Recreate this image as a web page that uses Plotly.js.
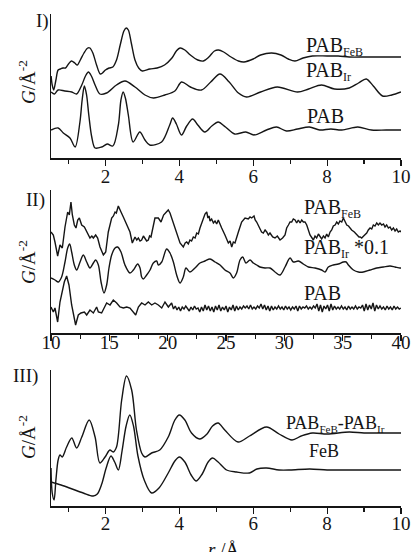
<!DOCTYPE html>
<html>
<head>
<meta charset="utf-8">
<script src="https://cdn.plot.ly/plotly-3.0.1.min.js"></script>
<style>html,body{margin:0;padding:0;background:#fff;}#chart{width:411px;height:552px;}</style>
</head>
<body>
<div id="chart"></div>
<script>
// ---- Panel I : r (Å) vs G (arbitrary offset units) ----
const panelI_FeB = [[0.53,82],[0.56,73],[0.60,68],[0.66,78],[0.72,88],[0.78,89],[0.85,90],[0.92,90],[1.00,94],[1.08,97],[1.17,95],[1.24,93],[1.32,98],[1.42,105],[1.52,110],[1.58,110],[1.66,105],[1.76,93],[1.86,84],[1.92,85],[2.00,88],[2.10,90],[2.20,91],[2.30,98],[2.40,113],[2.50,127],[2.56,130],[2.62,128],[2.70,115],[2.80,98],[2.90,90],[3.00,87],[3.20,89],[3.40,90],[3.60,93],[3.80,100],[3.92,107],[4.02,110],[4.15,108],[4.30,103],[4.50,98],[4.65,97],[4.80,101],[4.95,107],[5.06,108],[5.20,106],[5.40,101],[5.60,97],[5.75,96],[6.00,99],[6.20,103],[6.50,105],[6.75,103],[6.95,99],[7.13,97],[7.35,100],[7.60,102],[8.00,102],[8.30,102],[8.60,101],[9.00,101],[9.50,101],[10.0,101]];
const panelI_Ir = [[0.53,66],[0.62,64],[0.72,68],[0.90,67],[1.09,66],[1.22,64],[1.36,73],[1.46,82],[1.54,86],[1.62,82],[1.72,73],[1.85,64],[2.03,65],[2.30,73],[2.53,77],[2.80,71],[3.07,63],[3.30,60],[3.61,63],[3.88,67],[4.06,76],[4.30,71],[4.60,68],[4.85,76],[5.10,84],[5.35,76],[5.60,65],[5.82,61],[6.20,66],[6.65,71],[7.20,66],[7.50,69],[7.85,73],[8.20,69],[8.60,70],[8.85,75],[9.06,79],[9.25,72],[9.50,62],[9.75,63],[10.0,66]];
const panelI_PAB = [[0.53,28],[0.72,30],[0.86,25],[1.04,20],[1.18,11],[1.31,36],[1.37,58],[1.43,72],[1.49,63],[1.55,43],[1.63,21],[1.72,10],[1.90,11],[2.05,14],[2.20,12],[2.35,33],[2.42,58],[2.48,66],[2.54,60],[2.62,43],[2.75,16],[2.93,26],[3.07,18],[3.20,13],[3.52,16],[3.74,33],[3.82,40],[3.92,34],[4.06,23],[4.20,32],[4.36,39],[4.50,33],[4.69,26],[4.88,32],[5.05,36],[5.25,31],[5.50,24],[5.80,26],[6.02,23],[6.36,28],[6.63,31],[6.90,27],[7.20,29],[7.52,31],[7.80,28],[8.10,29],[8.40,28],[8.83,31],[9.20,28],[9.60,28],[10.0,28]];

// ---- Panel II : r 10–40 Å ----
const panelII_FeB = [[10.0,101],[10.2,98],[10.34,91],[10.57,77],[10.77,88],[10.97,85],[11.2,106],[11.43,121],[11.57,118],[11.71,131],[11.83,118],[12.0,108],[12.14,105],[12.29,113],[12.43,115],[12.63,108],[12.86,106],[13.06,101],[13.2,97],[13.34,95],[13.5,97],[13.63,95],[13.83,98],[14.0,95],[14.2,86],[14.49,78],[14.69,81],[14.91,101],[15.2,115],[15.35,117],[15.49,121],[15.6,120],[15.77,127],[15.9,123],[16.0,121],[16.2,116],[16.49,108],[16.77,101],[16.97,90],[17.2,96],[17.35,93],[17.49,95],[17.63,92],[17.77,93],[17.92,97],[18.06,95],[18.2,92],[18.34,93],[18.45,97],[18.57,96],[18.91,115],[19.2,115],[19.43,111],[19.65,118],[19.91,121],[20.05,123],[20.2,120],[20.49,110],[20.77,98],[21.06,90],[21.34,86],[21.5,90],[21.63,91],[21.77,89],[21.91,93],[22.05,92],[22.2,96],[22.35,95],[22.49,100],[22.63,99],[22.77,105],[23.06,115],[23.2,119],[23.35,121],[23.45,115],[23.55,117],[23.63,112],[23.77,114],[23.92,110],[24.06,112],[24.2,109],[24.34,113],[24.49,108],[24.63,105],[24.91,98],[25.2,90],[25.35,92],[25.49,86],[25.63,91],[25.77,90],[26.06,101],[26.34,111],[26.63,115],[26.91,114],[27.06,116],[27.2,115],[27.4,117],[27.5,113],[27.63,111],[27.77,108],[27.91,105],[28.05,101],[28.2,100],[28.35,103],[28.49,101],[28.63,98],[28.77,100],[29.0,96],[29.2,95],[29.4,97],[29.63,93],[29.85,95],[30.06,98],[30.2,105],[30.35,108],[30.49,111],[30.63,111],[30.77,114],[30.92,113],[31.06,110],[31.2,113],[31.35,110],[31.49,113],[31.63,111],[31.77,111],[31.92,108],[32.2,98],[32.35,95],[32.49,93],[32.63,97],[32.77,95],[32.92,99],[33.06,97],[33.2,94],[33.35,97],[33.49,95],[33.63,99],[33.77,96],[33.92,101],[34.06,103],[34.2,107],[34.35,108],[34.49,111],[34.63,109],[34.77,112],[34.92,111],[35.06,115],[35.2,111],[35.35,108],[35.5,107],[35.77,103],[36.0,101],[36.2,98],[36.4,96],[36.5,96],[36.63,95],[36.8,97],[37.06,100],[37.2,103],[37.35,105],[37.49,104],[37.63,108],[37.77,107],[37.92,110],[38.06,108],[38.2,110],[38.35,108],[38.5,109],[38.63,106],[38.77,108],[38.92,105],[39.06,106],[39.2,103],[39.35,105],[39.49,102],[39.63,104],[39.77,101],[39.92,102],[40.0,101]];
const panelII_Ir = [[10.0,55],[10.34,53],[10.63,51],[10.91,56],[11.2,71],[11.43,85],[11.6,89],[11.77,81],[12.0,68],[12.2,63],[12.49,71],[12.77,78],[13.06,71],[13.34,65],[13.63,70],[13.83,73],[14.06,68],[14.29,51],[14.54,40],[14.77,48],[14.97,65],[15.2,78],[15.49,85],[15.71,86],[16.0,81],[16.34,68],[16.77,60],[17.06,63],[17.43,69],[17.63,65],[17.77,56],[17.91,54],[18.2,58],[18.49,63],[18.77,70],[19.06,72],[19.2,68],[19.49,71],[19.91,84],[20.2,80],[20.49,71],[20.77,58],[21.06,50],[21.34,56],[21.57,65],[21.91,61],[22.34,65],[22.77,70],[23.2,72],[23.63,74],[24.06,71],[24.49,68],[24.91,63],[25.34,60],[25.63,55],[25.91,60],[26.2,73],[26.43,76],[26.71,70],[27.06,73],[27.34,70],[27.63,68],[27.91,66],[28.34,65],[28.77,65],[29.2,61],[29.63,58],[30.06,66],[30.49,75],[30.77,71],[31.2,72],[31.63,69],[32.06,66],[32.63,65],[33.2,63],[33.49,61],[33.77,66],[34.2,68],[34.63,69],[35.06,71],[35.3,71],[35.49,68],[35.92,63],[36.35,61],[36.77,61],[37.35,63],[37.92,65],[38.49,66],[39.06,67],[39.49,66],[39.92,65],[40.0,65]];
const panelII_PAB = [[10.0,26],[10.2,21],[10.34,25],[10.57,11],[10.77,31],[10.97,41],[11.14,51],[11.34,57],[11.54,48],[11.77,28],[12.0,16],[12.11,8],[12.34,18],[12.57,20],[12.86,21],[13.06,18],[13.34,23],[13.63,20],[13.91,26],[14.06,21],[14.34,20],[14.57,26],[14.77,30],[15.06,28],[15.34,33],[15.63,30],[15.91,26],[16.2,25],[16.49,26],[16.77,25],[17.06,21],[17.26,18],[17.49,26],[17.77,30],[18.06,28],[18.34,31],[18.63,28],[18.91,30],[19.2,28],[19.49,25],[19.77,31],[20.06,26],[20.34,30],[20.5,24],[20.65,27],[20.8,23],[20.95,26],[21.1,22],[21.25,26],[21.4,24],[21.55,27],[21.7,25],[21.85,22],[22.0,26],[22.15,23],[22.3,27],[22.45,24],[22.6,25],[22.75,21],[22.9,26],[23.05,22],[23.2,28],[23.35,23],[23.5,27],[23.65,22],[23.8,26],[23.95,21],[24.1,27],[24.25,23],[24.4,28],[24.55,22],[24.7,26],[24.85,23],[25.0,27],[25.15,21],[25.3,26],[25.45,23],[25.6,28],[25.75,22],[25.9,27],[26.05,23],[26.2,26],[26.35,24],[26.5,27],[26.65,25],[26.8,27],[26.95,24],[27.1,28],[27.25,24],[27.4,26],[27.55,24],[27.7,27],[27.85,25],[28.0,29],[28.15,24],[28.3,28],[28.45,23],[28.6,27],[28.75,22],[28.9,27],[29.05,23],[29.2,26],[29.35,24],[29.5,27],[29.65,24],[29.8,26],[29.95,23],[30.1,27],[30.25,24],[30.4,26],[30.55,23],[30.7,26],[30.85,24],[31.0,27],[31.15,22],[31.3,27],[31.45,24],[31.6,26],[31.75,25],[31.9,27],[32.05,24],[32.2,26],[32.35,24],[32.5,27],[32.65,25],[32.8,29],[32.95,22],[33.1,28],[33.25,21],[33.4,27],[33.55,24],[33.7,28],[33.85,22],[34.0,29],[34.15,23],[34.3,27],[34.45,24],[34.6,26],[34.75,24],[34.9,27],[35.05,24],[35.2,26],[35.35,23],[35.5,27],[35.65,24],[35.8,26],[35.95,24],[36.1,27],[36.25,24],[36.4,26],[36.55,25],[36.7,28],[36.85,22],[37.0,29],[37.15,23],[37.3,28],[37.45,24],[37.6,30],[37.75,22],[37.9,28],[38.05,24],[38.2,27],[38.35,24],[38.5,26],[38.65,23],[38.8,27],[38.95,24],[39.1,26],[39.25,23],[39.4,27],[39.55,24],[39.7,26],[39.85,24],[40.0,25]];

// ---- Panel III : difference and FeB reference ----
const panelIII_Diff = [[0.527,38],[0.56,13],[0.61,6],[0.66,26],[0.72,46],[0.77,51],[0.83,49],[0.95,59],[1.09,68],[1.22,58],[1.36,69],[1.56,86],[1.72,69],[1.85,43],[1.99,49],[2.12,56],[2.21,54],[2.30,59],[2.44,106],[2.57,130],[2.71,116],[2.84,76],[2.98,53],[3.07,49],[3.25,53],[3.47,56],[3.70,69],[3.88,86],[4.0,91],[4.15,86],[4.33,73],[4.55,67],[4.75,72],[4.9,80],[5.05,83],[5.23,76],[5.59,64],[5.9,70],[6.36,79],[6.7,72],[7.05,66],[7.3,70],[7.6,73],[8.0,72],[8.6,74],[9.0,73],[9.5,73],[10.0,73]];
const panelIII_FeB = [[0.527,24],[0.8,21],[1.1,17],[1.4,13],[1.67,10],[1.78,12],[1.9,22],[2.02,38],[2.15,50],[2.25,44],[2.35,36],[2.45,55],[2.56,80],[2.66,91],[2.76,80],[2.88,50],[3.05,26],[3.25,13],[3.45,18],[3.70,33],[3.88,45],[4.0,49],[4.15,44],[4.32,31],[4.46,25],[4.62,32],[4.78,44],[4.9,48],[5.05,44],[5.28,36],[5.55,34],[5.9,33],[6.1,37],[6.36,38],[6.7,36],[7.0,36],[7.53,37],[8.0,36],[8.5,36],[9.0,36],[9.5,36],[10.0,36]];

const ticksShort = [2,4,6,8,10];
const ticksLong = [10,15,20,25,30,35,40];

const INK = '#151515';
const FONT = '"Liberation Serif", "Times New Roman", Times, serif';

function tr(pairs, xa, ya, shape) {
  return {
    x: pairs.map(p => p[0]), y: pairs.map(p => p[1]),
    xaxis: xa, yaxis: ya, mode: 'lines', hoverinfo: 'skip',
    line: {color: INK, width: 1.4, shape: shape, smoothing: 0.9}
  };
}
const data = [
  tr(panelI_FeB, 'x', 'y', 'spline'),
  tr(panelI_Ir, 'x', 'y', 'spline'),
  tr(panelI_PAB, 'x', 'y', 'spline'),
  tr(panelII_FeB, 'x2', 'y2', 'linear'),
  tr(panelII_Ir, 'x2', 'y2', 'spline'),
  tr(panelII_PAB, 'x2', 'y2', 'linear'),
  tr(panelIII_Diff, 'x3', 'y3', 'spline'),
  tr(panelIII_FeB, 'x3', 'y3', 'spline')
];

function xax(anchor, range, vals, minorDtick, standoff) {
  return {
    anchor: anchor, domain: [0, 1], range: range,
    tickmode: 'array', tickvals: vals, ticktext: vals.map(String),
    ticks: 'outside', ticklen: 6, tickwidth: 1.2, tickcolor: INK,
    ticklabelstandoff: standoff,
    minor: {ticks: 'outside', ticklen: 4, tickwidth: 1.1, tickcolor: INK, dtick: minorDtick, tick0: 0, showgrid: false},
    showline: true, linecolor: INK, linewidth: 1.5,
    showgrid: false, zeroline: false,
    tickfont: {family: FONT, size: 19, color: INK}
  };
}
function yax(anchor, domain, range) {
  return {
    anchor: anchor, domain: domain, range: range,
    showline: true, linecolor: INK, linewidth: 1.5,
    showticklabels: false, ticks: '', showgrid: false, zeroline: false
  };
}

function ann(text, x, y, size, opts) {
  return Object.assign({
    text: text, x: x, y: y, xref: 'paper', yref: 'paper', showarrow: false,
    xanchor: 'left', yanchor: 'middle', borderpad: 0,
    font: {family: FONT, size: size, color: INK}
  }, opts || {});
}
const sub = (t, s) => '<sub><span style="font-size:' + s + 'px">' + t + '</span></sub>';
const px = v => (v - 51) / 350;
const py = v => (506 - v) / 492;
const gTitle = '<i>G</i>/Å<sup>-2</sup>';

const layout = {
  width: 411, height: 552,
  margin: {l: 51, r: 10, t: 14, b: 46},
  paper_bgcolor: '#fff', plot_bgcolor: '#fff',
  showlegend: false,
  font: {family: FONT, size: 19, color: INK},
  xaxis: xax('y', [0.527, 10], ticksShort, 1, -5),
  yaxis: yax('x', [py(158), 1], [0, 144]),
  xaxis2: xax('y2', [10, 40], ticksLong, 2.5, -14),
  yaxis2: yax('x2', [py(333), py(190)], [0, 143]),
  xaxis3: xax('y3', [0.527, 10], ticksShort, 1, -6),
  yaxis3: yax('x3', [0, py(370)], [0, 136]),
  annotations: [
    ann('I)', px(35), py(21), 19),
    ann('II)', px(25), py(200), 19),
    ann('III)', px(12), py(376), 19),
    ann(gTitle, px(27), py(82), 19, {xanchor: 'center', textangle: -90}),
    ann(gTitle, px(27), py(262), 19, {xanchor: 'center', textangle: -90}),
    ann(gTitle, px(27), py(437), 19, {xanchor: 'center', textangle: -90}),
    ann('<i>r</i> /Å', px(223), py(549), 19, {xanchor: 'center'}),
    ann('PAB' + sub('FeB', 12), px(305), py(47), 20),
    ann('PAB' + sub('Ir', 12), px(305), py(71.5), 20),
    ann('PAB', px(306), py(115.5), 20),
    ann('PAB' + sub('FeB', 12), px(303), py(208), 20),
    ann('PAB' + sub('Ir', 12) + ' *0.1', px(303), py(248), 20),
    ann('PAB', px(303), py(292.5), 20),
    ann('PAB' + sub('FeB', 11) + '-PAB' + sub('Ir', 11), px(285), py(423.5), 18),
    ann('FeB', px(308), py(450.5), 18)
  ]
};

Plotly.newPlot('chart', data, layout, {staticPlot: true, displayModeBar: false});
</script>
</body>
</html>
